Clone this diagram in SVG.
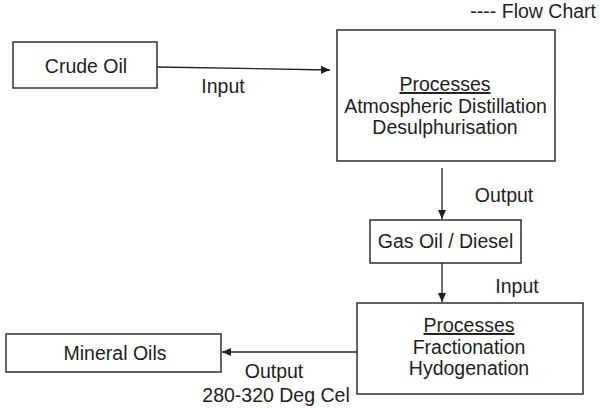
<svg xmlns="http://www.w3.org/2000/svg" width="600" height="408" viewBox="0 0 600 408">
  <defs>
    <style>
      .box { fill: #ffffff; stroke: #222; stroke-width: 1.4; }
      .t { font-family: "Liberation Sans", Arial, sans-serif; font-size: 19.5px; fill: #1e1e1e; }
      .c { text-anchor: middle; }
      .line { stroke: #222; stroke-width: 1.3; fill: none; }
    </style>
    <marker id="arr" markerWidth="10" markerHeight="8" refX="9" refY="4" orient="auto" markerUnits="userSpaceOnUse">
      <path d="M0,0 L9,4 L0,8 Z" fill="#1e1e1e"/>
    </marker>
  </defs>
  <rect x="0" y="0" width="600" height="408" fill="#ffffff"/>

  <text class="t" x="596" y="18" text-anchor="end">---- Flow Chart</text>

  <g id="connectors">
    <line class="line" x1="157" y1="67" x2="330" y2="70" marker-end="url(#arr)"/>
    <line class="line" x1="442" y1="168" x2="442" y2="219" marker-end="url(#arr)"/>
    <line class="line" x1="442" y1="263" x2="442" y2="302" marker-end="url(#arr)"/>
    <line class="line" x1="357" y1="352" x2="222" y2="352" marker-end="url(#arr)"/>
    <text class="t c" x="223" y="93">Input</text>
    <text class="t c" x="504" y="202">Output</text>
    <text class="t c" x="517" y="293">Input</text>
    <text class="t c" x="274" y="378">Output</text>
    <text class="t c" x="276" y="402">280-320 Deg Cel</text>
  </g>

  <g id="crude-oil">
    <rect class="box" x="13" y="42" width="144" height="46"/>
    <text class="t c" x="86" y="73">Crude Oil</text>
  </g>

  <g id="processes-1">
    <rect class="box" x="337" y="30" width="218" height="131"/>
    <text class="t c" x="445" y="91" text-decoration="underline">Processes</text>
    <text class="t c" x="445.5" y="113">Atmospheric Distillation</text>
    <text class="t c" x="445" y="134">Desulphurisation</text>
  </g>

  <g id="gas-oil">
    <rect class="box" x="370" y="220" width="151" height="43"/>
    <text class="t c" x="445.5" y="248">Gas Oil / Diesel</text>
  </g>

  <g id="processes-2">
    <rect class="box" x="357" y="303" width="226" height="91"/>
    <text class="t c" x="469" y="332" text-decoration="underline">Processes</text>
    <text class="t c" x="469" y="354">Fractionation</text>
    <text class="t c" x="469" y="375">Hydogenation</text>
  </g>

  <g id="mineral-oils">
    <rect class="box" x="6" y="334" width="215" height="38"/>
    <text class="t c" x="115" y="360">Mineral Oils</text>
  </g>
</svg>
